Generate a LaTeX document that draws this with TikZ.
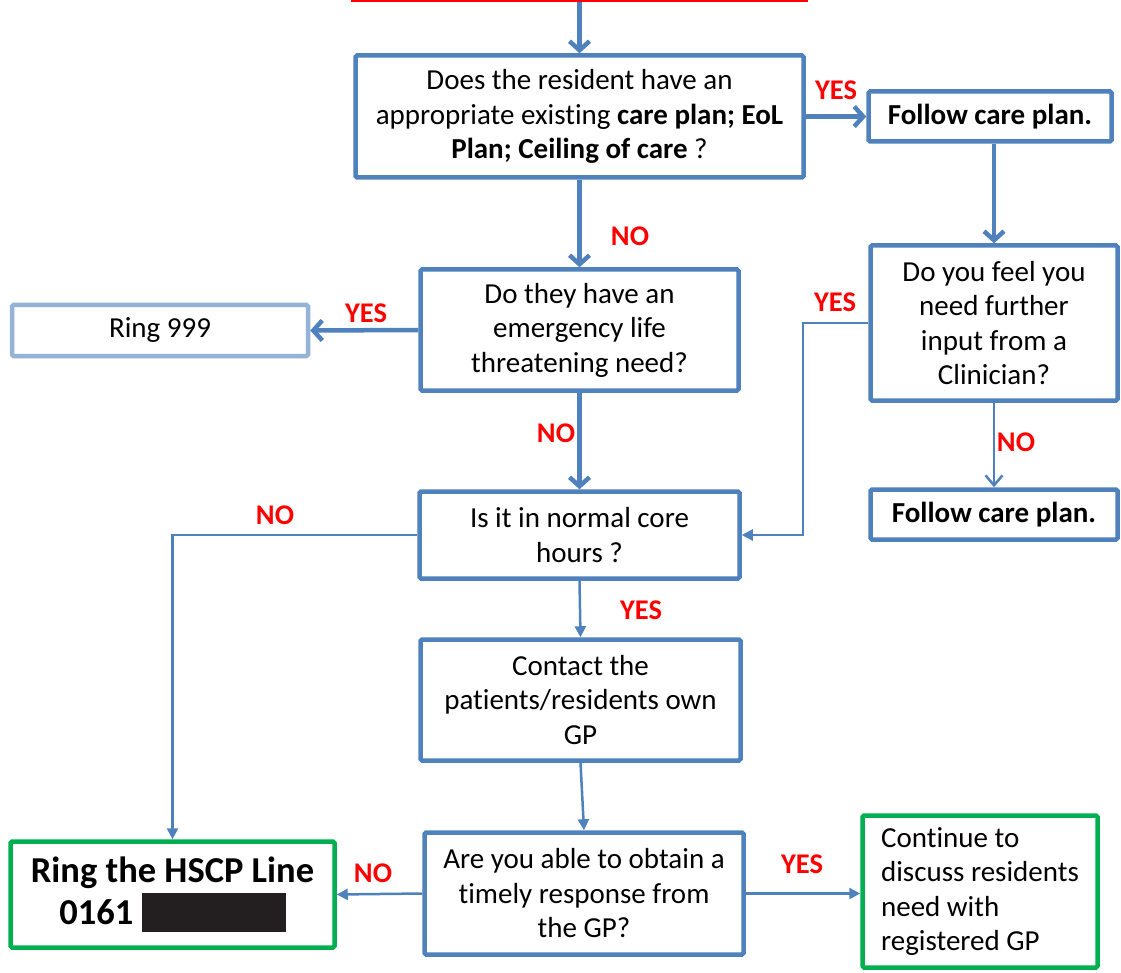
\documentclass[tikz,border=0pt]{standalone}
\usepackage{fontspec}
\setmainfont{Carlito}[Ligatures={NoCommon}]
\usetikzlibrary{arrows.meta}
\definecolor{boxblue}{HTML}{4F81BD}
\definecolor{lightblue}{HTML}{95B3D7}
\definecolor{boxgreen}{HTML}{00B050}
\definecolor{labred}{HTML}{FF0000}
\definecolor{redact}{HTML}{231F20}
\begin{document}
\begin{tikzpicture}[x=1pt,y=-1pt,
  box/.style={draw=boxblue,line width=4.5pt,fill=white,inner sep=0pt,rounded corners=1.5pt,
    align=center,font=\fontsize{29pt}{34.5pt}\selectfont},
  lightbox/.style={box,draw=lightblue},
  greenbox/.style={box,draw=boxgreen},
  lab/.style={text=labred,font=\bfseries\fontsize{28.5pt}{30pt}\selectfont,inner sep=0pt},
  thickarrow/.style={draw=boxblue,line width=4.5pt,-{Straight Barb[length=9pt,width=20pt]}},
  thinopen/.style={draw=boxblue,line width=2.5pt,-{Straight Barb[length=10pt,width=17pt]}},
  thinarrow/.style={draw=boxblue,line width=2.5pt,-{Triangle[length=11pt,width=11pt]}},
  thinline/.style={draw=boxblue,line width=2.5pt}]
\useasboundingbox (0,0) rectangle (1121,973);

\node[draw=labred,line width=4pt,minimum width=453pt,minimum height=40pt,inner sep=0pt] (top) at (579.5,-20) {};

\node[box,minimum width=448pt,minimum height=122pt] (q1) at (579.5,116.5)
  {Does the resident have an\\appropriate existing \textbf{care plan; EoL}\\\textbf{Plan; Ceiling of care} ?};
\node[box,minimum width=243pt,minimum height=50pt,font=\bfseries\fontsize{29pt}{32pt}\selectfont] (f1) at (990,116.5) {Follow care plan.};
\node[box,minimum width=247pt,minimum height=155pt] (q2) at (994,323)
  {Do you feel you\\need further\\input from a\\Clinician?};
\node[box,minimum width=247pt,minimum height=50pt,font=\bfseries\fontsize{29pt}{32pt}\selectfont] (f2) at (994,514.5) {Follow care plan.};
\node[box,minimum width=318pt,minimum height=121pt] (q3) at (579.5,330)
  {Do they have an\\emergency life\\threatening need?};
\node[lightbox,minimum width=296pt,minimum height=51pt] (r999) at (160,330.5) {Ring 999};
\node[box,minimum width=320pt,minimum height=87pt] (q4) at (579.5,535)
  {Is it in normal core\\hours ?};
\node[box,minimum width=320pt,minimum height=121pt] (gp) at (580.5,700)
  {Contact the\\patients/residents own\\GP};
\node[box,minimum width=319pt,minimum height=122pt] (q5) at (584,893.5)
  {Are you able to obtain a\\timely response from\\the GP?};
\node[greenbox,minimum width=324pt,minimum height=106pt,font=\bfseries\fontsize{36.5pt}{42pt}\selectfont] (hscp) at (172.5,894.5)
  {Ring the HSCP Line\\0161 {\color{redact}\rule[-8pt]{144pt}{39pt}}};
\node[greenbox,minimum width=235pt,minimum height=152pt,align=left] (cont) at (980,891.5)
  {Continue to\\discuss residents\\need with\\registered GP};

\coordinate (jq) at (803,323);

\draw[thickarrow] (top.south) -- (q1.north);
\draw[thickarrow] (q1.east) -- (f1.west);
\draw[thickarrow] (f1.south -| q2.north) -- (q2.north);
\draw[thickarrow] (q1.south) -- (q3.north);
\draw[thickarrow] (q3.west) -- (r999.east);
\draw[thickarrow] (q3.south) -- (q4.north);
\draw[thinopen] (q2.south) -- (f2.north);
\draw[thinarrow] (q2.west) -- (jq) |- (q4.east);
\draw[thinarrow] (q4.west) -| (hscp.north);
\draw[thinarrow] (q4.south) -- (gp.north);
\draw[thinarrow] (gp.south) -- (q5.north);
\draw[thinarrow] (q5.west) -- (hscp.east);
\draw[thinarrow] (q5.east) -- (q5.east -| cont.west);

\node[lab] (l1) at (836,90) {YES};
\node[lab] (l2) at (630,236) {NO};
\node[lab] (l3) at (366,313) {YES};
\node[lab] (l4) at (556,433) {NO};
\node[lab] (l5) at (835,302) {YES};
\node[lab] (l6) at (1016,442) {NO};
\node[lab] (l7) at (275,515) {NO};
\node[lab] (l8) at (641,610) {YES};
\node[lab] (l9) at (373,873) {NO};
\node[lab] (l10) at (802,864) {YES};
\end{tikzpicture}
\end{document}
